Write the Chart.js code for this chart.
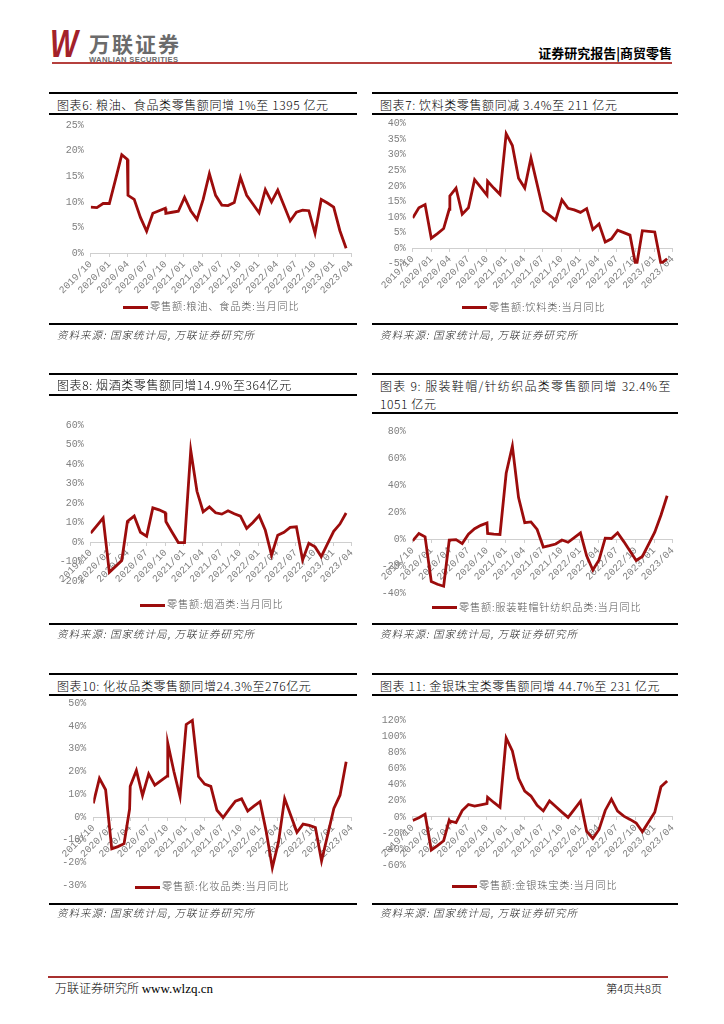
<!DOCTYPE html>
<html>
<head>
<meta charset="utf-8">
<script src="https://cdn.jsdelivr.net/npm/chart.js@4.4.0/dist/chart.umd.min.js"></script>
<style>
body { margin: 0; background: #fff; }
#page { position: relative; width: 724px; height: 1024px; overflow: hidden; font-family: "Noto Sans CJK SC", sans-serif; }
.abs { position: absolute; }
.rule { position: absolute; height: 2px; background: #000; }
.title { position: absolute; font-size: 12px; font-weight: 300; letter-spacing: 0.6px; line-height: 15px; color: #000; white-space: nowrap; }
.src { position: absolute; font-size: 10.5px; font-weight: 300; line-height: 14px; font-style: italic; letter-spacing: 1px; color: #222; }
.legend { position: absolute; font-size: 10.2px; font-weight: 300; line-height: 12px; letter-spacing: 0.8px; color: #555; white-space: nowrap; }
.legend i { display: inline-block; width: 25px; height: 3px; background: #9c0c0c; vertical-align: middle; margin-right: 2px; }
.box { position: absolute; }
</style>
</head>
<body>
<div id="page">
  <!-- header -->
  <div class="abs" style="left:50px;top:25px;font:italic bold 38px 'Liberation Sans';line-height:38px;color:#a3212a;transform:scaleX(0.78);transform-origin:left top;">W</div>
  <div class="abs" style="left:89px;top:33px;font-size:21px;line-height:21px;font-weight:700;color:#6b6b6b;letter-spacing:2px;">万联证券</div>
  <div class="abs" style="left:89px;top:56px;font:600 7.6px 'Liberation Sans';line-height:8px;color:#6b6b6b;letter-spacing:0.35px;">WANLIAN SECURITIES</div>
  <div class="abs" style="right:52px;top:46px;font-size:13px;line-height:14px;font-weight:700;">证券研究报告|商贸零售</div>
  <div class="abs" style="left:52px;top:62px;width:620px;height:1.5px;background:#b5403e;"></div>

  <!-- row 1 -->
  <div class="rule" style="left:49px;top:92px;width:308px;"></div>
  <div class="rule" style="left:49px;top:113px;width:308px;"></div>
  <div class="rule" style="left:49px;top:323px;width:308px;"></div>
  <div class="title" style="left:57px;top:96.5px;">图表6: 粮油、食品类零售额同增 1%至 1395 亿元</div>
  <div class="box" style="left:49px;top:116px;"><canvas id="c1" width="308" height="206"></canvas></div>
  <div class="legend" style="left:123px;top:300px;"><i></i>零售额:粮油、食品类:当月同比</div>
  <div class="src" style="left:57px;top:327.5px;">资料来源: 国家统计局, 万联证券研究所</div>

  <div class="rule" style="left:372px;top:92px;width:306px;"></div>
  <div class="rule" style="left:372px;top:113px;width:306px;"></div>
  <div class="rule" style="left:372px;top:323px;width:306px;"></div>
  <div class="title" style="left:380px;top:96.5px;">图表7: 饮料类零售额同减 3.4%至 211 亿元</div>
  <div class="box" style="left:372px;top:116px;"><canvas id="c2" width="306" height="206"></canvas></div>
  <div class="legend" style="left:462px;top:300.7px;"><i></i>零售额:饮料类:当月同比</div>
  <div class="src" style="left:380px;top:327.5px;">资料来源: 国家统计局, 万联证券研究所</div>

  <!-- row 2 -->
  <div class="rule" style="left:49px;top:373px;width:308px;"></div>
  <div class="rule" style="left:49px;top:394px;width:308px;"></div>
  <div class="rule" style="left:49px;top:623px;width:308px;"></div>
  <div class="title" style="left:57px;top:377px;">图表8: 烟酒类零售额同增14.9%至364亿元</div>
  <div class="box" style="left:49px;top:397px;"><canvas id="c3" width="308" height="225"></canvas></div>
  <div class="legend" style="left:140px;top:598px;"><i></i>零售额:烟酒类:当月同比</div>
  <div class="src" style="left:57px;top:627px;">资料来源: 国家统计局, 万联证券研究所</div>

  <div class="rule" style="left:372px;top:373px;width:306px;"></div>
  <div class="rule" style="left:372px;top:412px;width:306px;"></div>
  <div class="rule" style="left:372px;top:623px;width:306px;"></div>
  <div class="title" style="left:380px;top:377.5px;width:291px;text-align:justify;text-align-last:justify;">图表 9: 服装鞋帽/针纺织品类零售额同增 32.4%至</div>
  <div class="title" style="left:380px;top:395.5px;">1051 亿元</div>
  <div class="box" style="left:372px;top:415px;"><canvas id="c4" width="306" height="207"></canvas></div>
  <div class="legend" style="left:432px;top:600.7px;"><i></i>零售额:服装鞋帽针纺织品类:当月同比</div>
  <div class="src" style="left:380px;top:627px;">资料来源: 国家统计局, 万联证券研究所</div>

  <!-- row 3 -->
  <div class="rule" style="left:49px;top:673px;width:308px;"></div>
  <div class="rule" style="left:49px;top:694px;width:308px;"></div>
  <div class="rule" style="left:49px;top:903px;width:308px;"></div>
  <div class="title" style="left:57px;top:677.5px;">图表10: 化妆品类零售额同增24.3%至276亿元</div>
  <div class="box" style="left:49px;top:697px;"><canvas id="c5" width="308" height="205"></canvas></div>
  <div class="legend" style="left:135px;top:880px;"><i></i>零售额:化妆品类:当月同比</div>
  <div class="src" style="left:57px;top:906px;">资料来源: 国家统计局, 万联证券研究所</div>

  <div class="rule" style="left:372px;top:673px;width:306px;"></div>
  <div class="rule" style="left:372px;top:694px;width:306px;"></div>
  <div class="rule" style="left:372px;top:903px;width:306px;"></div>
  <div class="title" style="left:380px;top:677.5px;">图表 11: 金银珠宝类零售额同增 44.7%至 231 亿元</div>
  <div class="box" style="left:372px;top:697px;"><canvas id="c6" width="306" height="205"></canvas></div>
  <div class="legend" style="left:452px;top:879px;"><i></i>零售额:金银珠宝类:当月同比</div>
  <div class="src" style="left:380px;top:906px;">资料来源: 国家统计局, 万联证券研究所</div>

  <!-- footer -->
  <div class="abs" style="left:48px;top:976px;width:620px;height:2px;background:#a8302f;"></div>
  <div class="abs" style="left:55px;top:981px;font-size:12px;font-weight:300;line-height:14px;">万联证券研究所 <span style="font-family:'Liberation Serif';font-size:13px;font-weight:400;">www.wlzq.cn</span></div>
  <div class="abs" style="right:62px;top:981px;font-size:11px;font-weight:300;line-height:14px;">第4页共8页</div>
</div>

<script>
// x axis: every third month is labelled
const tickLabels = ['2019/10', '2020/01', '2020/04', '2020/07', '2020/10', '2021/01', '2021/04', '2021/07',
    '2021/10', '2022/01', '2022/04', '2022/07', '2022/10', '2023/01', '2023/04'];

// position of each data point on the month axis (0 = 2019/10), as plotted in the source
const monthPos = [0, 1, 2, 3, 4, 5, 5.9, 6, 7, 8, 9, 10, 11, 12,
    12.1, 13.1, 14.1, 15.1, 16.1, 17.1, 18.1, 19.1, 20.1, 21.1,
    22.1, 23.1, 24.1, 25.1, 26.1, 27.1, 28.1, 29.1, 30.1, 31.1,
    32.1, 33.1, 34.1, 35.1, 36.1, 37.1, 38.1, 39.1, 40.1, 41.1];

// 当月同比, %
const foodYoY = [9.0, 8.9, 9.7, 9.7, 14.4, 19.2, 18.3, 11.3, 10.5, 7.0, 4.3, 7.8, 8.3, 8.8,
    7.8, 8.0, 8.2, 10.9, 8.3, 6.6, 10.5, 15.5, 11.3, 9.4,
    9.3, 9.9, 14.8, 11.3, 9.6, 7.9, 12.4, 10.0, 12.3, 9.3,
    6.3, 8.0, 8.4, 8.3, 3.9, 10.5, 9.8, 9.0, 4.4, 1.0];
const beverageYoY = [9.7, 13.0, 14.0, 3.2, 4.7, 6.3, 12.5, 16.8, 19.3, 10.9, 13.0, 22.0, 19.5, 17.0,
    21.5, 19.3, 17.3, 36.8, 33.0, 22.5, 19.3, 29.0, 20.5, 12.0,
    10.5, 9.0, 15.5, 12.8, 12.3, 11.5, 12.7, 6.0, 7.8, 2.0,
    3.0, 5.8, 5.0, 4.2, -6.3, 5.6, 5.4, 5.2, -5.0, -3.4];
const tobaccoYoY = [4.5, 8.4, 12.3, -15.5, -12.5, -9.5, 10.3, 10.8, 13.3, 5.0, 3.0, 17.5, 16.5, 15.0,
    10.5, 5.0, -0.3, -0.3, 47.0, 26.0, 15.5, 18.0, 15.0, 14.3,
    16.0, 14.5, 13.3, 7.0, 10.0, 13.5, 6.0, -6.7, 3.5, 5.0,
    7.5, 7.8, -9.2, -0.7, -2.5, -7.5, -1.0, 5.5, 9.2, 14.9];
const apparelYoY = [-1.0, 4.5, 2.0, -31.0, -33.0, -34.5, -0.5, -0.3, 0.0, -3.0, 4.0, 8.0, 10.5, 12.3,
    4.5, 4.0, 3.8, 49.0, 69.0, 31.0, 12.5, 13.0, 7.5, -5.5,
    -4.5, -3.3, -0.3, -2.0, 1.5, 5.0, -12.0, -22.5, -15.0, 1.0,
    0.8, 5.0, -1.5, -8.5, -15.5, -12.5, -3.5, 5.4, 18.0, 32.4];
const cosmeticsYoY = [6.0, 17.0, 12.0, -14.0, -13.0, -11.7, 3.5, 13.5, 20.5, 9.5, 19.0, 14.0, 16.0, 18.0,
    32.5, 20.0, 9.0, 40.7, 42.5, 17.8, 14.5, 13.5, 3.0, -0.2,
    3.5, 7.0, 8.0, 2.6, 4.8, 6.8, -6.3, -22.3, -11.0, 8.1,
    0.7, -6.7, -3.1, -3.7, -4.6, -19.3, -7.8, 3.8, 9.6, 24.3];
const jewelryYoY = [-4.5, -1.0, 3.5, -41.0, -35.5, -29.5, -4.0, -5.0, -7.0, 8.0, 15.5, 13.5, 15.0, 16.5,
    24.5, 18.0, 12.0, 98.0, 82.0, 48.0, 32.0, 26.0, 14.5, 7.5,
    20.0, 13.0, 6.0, -0.5, 9.5, 19.5, -17.9, -26.7, -15.5, 8.1,
    22.1, 7.2, 1.0, -3.0, -7.5, -18.4, -6.3, 5.9, 37.4, 44.7];

const lineRed = '#9c0c0c';
const tickGray = '#808080';
const tickFont = { family: 'Liberation Mono', size: 10 };

function drawPanel(id, values, yMin, yMax, yStep, box) {
    new Chart(document.getElementById(id), {
        type: 'line',
        data: {
            datasets: [{
                data: monthPos.map((m, i) => ({ x: m, y: values[i] })),
                borderColor: lineRed,
                borderWidth: 2.8,
                pointRadius: 0,
                tension: 0,
                fill: false
            }]
        },
        options: {
            responsive: false,
            animation: false,
            layout: { autoPadding: false, padding: { left: 0, right: box.pr, top: box.pt, bottom: box.pb } },
            plugins: { legend: { display: false }, tooltip: { enabled: false } },
            scales: {
                x: {
                    type: 'linear',
                    min: 0,
                    max: 42,
                    position: { y: 0 },  // axis line sits on 0%
                    grid: { drawOnChartArea: false, tickLength: 3, color: '#cfcfcf' },
                    border: { color: '#cfcfcf', width: 1 },
                    ticks: {
                        stepSize: 3, autoSkip: false, minRotation: 45, maxRotation: 45, padding: 2,
                        color: tickGray, font: tickFont,
                        callback: v => tickLabels[Math.round(v / 3)]
                    },
                    afterFit: s => { s.height = 0; s.paddingLeft = 0; s.paddingRight = 0; }
                },
                y: {
                    min: yMin,
                    max: yMax,
                    grid: { display: false, drawTicks: false },
                    border: { display: false },
                    ticks: { stepSize: yStep, padding: 7, color: tickGray, font: tickFont, callback: v => v + '%' },
                    afterFit: s => { s.width = box.yw; s.paddingTop = 0; s.paddingBottom = 0; }
                }
            }
        }
    });
}

drawPanel('c1', foodYoY, 0, 25, 5, { yw: 41.7, pr: 5.3, pt: 9, pb: 68.7 });
drawPanel('c2', beverageYoY, -5, 40, 5, { yw: 40.7, pr: 5.3, pt: 7.7, pb: 58.3 });
drawPanel('c3', tobaccoYoY, -20, 60, 10, { yw: 41.7, pr: 5.3, pt: 28, pb: 41 });
drawPanel('c4', apparelYoY, -40, 80, 20, { yw: 40.7, pr: 5.3, pt: 16.3, pb: 28.3 });
drawPanel('c5', cosmeticsYoY, -30, 50, 10, { yw: 44.3, pr: 5.3, pt: 6.3, pb: 16.7 });
drawPanel('c6', jewelryYoY, -60, 120, 20, { yw: 40.7, pr: 5.3, pt: 23.3, pb: 36.7 });
</script>
</body>
</html>
